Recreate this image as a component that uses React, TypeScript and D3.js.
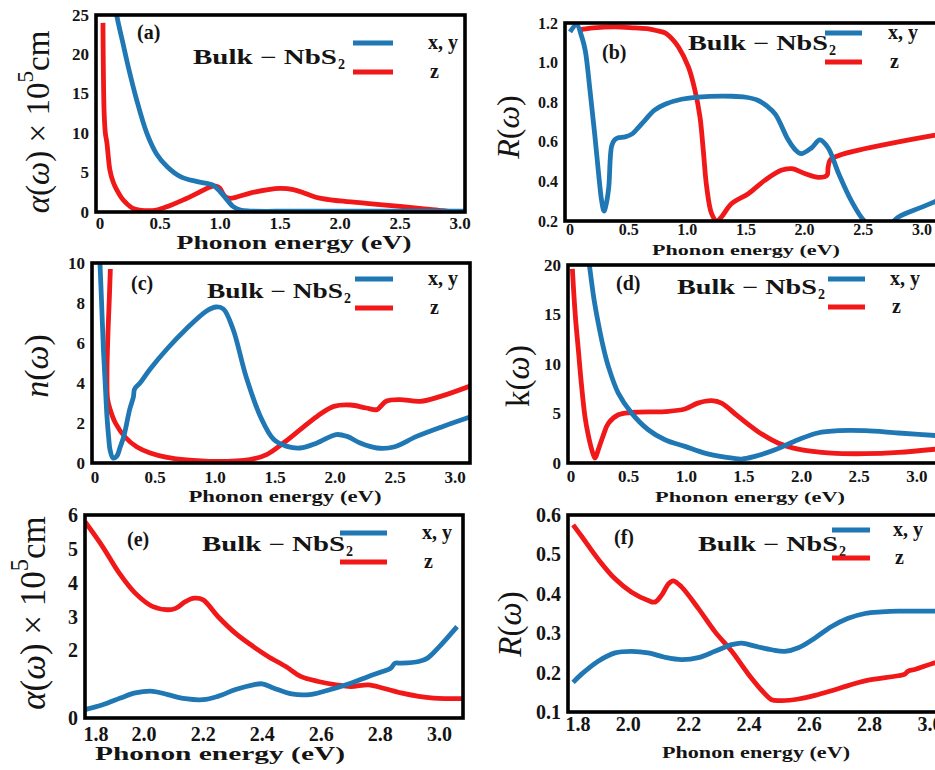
import React from "react";
import * as d3 from "d3";

// ---- data: [photon energy (eV), value] ----
const absXY = [[0.12,27],[0.139,25],[0.19,21.5],[0.236,18.4],[0.306,14.2],[0.39,10],[0.47,7.4],[0.56,5.75],[0.67,4.5],[0.81,3.85],[0.94,3.4],[1.0,2.6],[1.06,1.5],[1.11,0.68],[1.17,0.25],[1.25,0.12],[1.6,0.1],[2.5,0.1],[3.1,0.1]];
const absZ = [[0.025,24],[0.027,20],[0.03,16],[0.035,12.5],[0.045,10],[0.058,8.75],[0.083,5.3],[0.11,3.8],[0.14,2.8],[0.18,1.8],[0.22,1.1],[0.27,0.5],[0.33,0.25],[0.47,0.25],[0.58,0.8],[0.69,1.5],[0.8,2.3],[0.89,3.0],[0.94,3.3],[0.98,3.2],[1.0,3.0],[1.03,2.2],[1.06,1.8],[1.1,1.75],[1.25,2.4],[1.4,2.85],[1.5,3.0],[1.61,2.85],[1.72,2.3],[1.83,1.75],[2.0,1.4],[2.22,1.1],[2.5,0.7],[2.7,0.4],[2.86,0.17],[2.92,0.05],[3.0,0.02],[3.1,0.02]];

const refXY = [[0,1.155],[0.057,1.19],[0.1,1.13],[0.13,1.06],[0.17,0.86],[0.21,0.64],[0.25,0.4],[0.27,0.3],[0.29,0.25],[0.31,0.29],[0.33,0.37],[0.355,0.58],[0.38,0.61],[0.41,0.62],[0.47,0.625],[0.53,0.64],[0.58,0.67],[0.64,0.71],[0.72,0.76],[0.81,0.79],[0.95,0.815],[1.09,0.826],[1.38,0.83],[1.5,0.825],[1.6,0.81],[1.68,0.78],[1.75,0.74],[1.86,0.61],[1.92,0.56],[1.97,0.54],[2.06,0.57],[2.13,0.61],[2.2,0.57],[2.29,0.44],[2.4,0.3],[2.51,0.2],[2.6,0.17],[2.7,0.17],[2.8,0.22],[3.0,0.27],[3.2,0.32]];
const refZ = [[0.08,1.165],[0.2,1.175],[0.38,1.18],[0.55,1.175],[0.67,1.17],[0.75,1.16],[0.81,1.15],[0.87,1.12],[0.923,1.08],[1.009,0.978],[1.065,0.86],[1.108,0.725],[1.136,0.557],[1.165,0.372],[1.207,0.237],[1.25,0.2],[1.29,0.22],[1.378,0.288],[1.52,0.338],[1.66,0.405],[1.8,0.456],[1.89,0.464],[2.0,0.44],[2.117,0.42],[2.19,0.43],[2.2,0.47],[2.216,0.506],[2.287,0.53],[2.51,0.565],[2.8,0.6],[3.11,0.633],[3.2,0.642]];

const nXY = [[0.04,10.2],[0.055,8],[0.07,5.7],[0.085,4],[0.1,2.3],[0.115,1.2],[0.125,0.67],[0.15,0.25],[0.18,0.33],[0.21,0.8],[0.24,1.33],[0.29,2.7],[0.32,3.3],[0.33,3.7],[0.375,4.0],[0.46,4.7],[0.6,5.7],[0.76,6.7],[0.93,7.6],[1.01,7.8],[1.07,7.7],[1.15,6.7],[1.26,4.3],[1.38,2.3],[1.49,1.17],[1.6,0.83],[1.71,0.75],[1.85,1.0],[2.01,1.42],[2.1,1.33],[2.21,1.0],[2.35,0.75],[2.49,0.8],[2.68,1.33],[2.9,1.83],[3.15,2.35]];
const nZ = [[0.128,9.7],[0.118,8],[0.108,6.5],[0.1,4.5],[0.105,3.2],[0.125,2.7],[0.17,2.0],[0.25,1.3],[0.35,0.8],[0.46,0.5],[0.6,0.28],[0.74,0.17],[1.01,0.08],[1.29,0.17],[1.43,0.42],[1.57,1.0],[1.71,1.67],[1.85,2.33],[1.99,2.83],[2.13,2.9],[2.26,2.75],[2.35,2.67],[2.38,2.83],[2.43,3.1],[2.54,3.17],[2.71,3.08],[2.88,3.33],[3.15,3.9]];

const kXY = [[0.15,21],[0.165,19.5],[0.2,16.5],[0.237,14.1],[0.28,11.7],[0.324,9.75],[0.41,7.06],[0.526,5.04],[0.67,3.36],[0.815,2.35],[0.988,1.68],[1.16,1.0],[1.335,0.6],[1.48,0.4],[1.595,0.67],[1.77,1.34],[1.97,2.35],[2.14,3.03],[2.32,3.26],[2.55,3.26],[2.84,3.03],[3.25,2.7]];
const kZ = [[0.012,19.6],[0.025,17],[0.04,14.5],[0.064,11.4],[0.09,8],[0.121,4.7],[0.15,2.8],[0.18,1.35],[0.208,0.5],[0.237,1.35],[0.28,2.8],[0.324,4.0],[0.41,4.87],[0.526,5.1],[0.815,5.2],[0.988,5.45],[1.1,6.05],[1.22,6.3],[1.306,6.05],[1.45,4.7],[1.62,3.19],[1.8,2.0],[1.97,1.41],[2.26,1.0],[2.55,0.94],[2.84,1.07],[3.25,1.5]];

const absHiXY = [[1.8,0.25],[1.86,0.39],[1.92,0.59],[1.97,0.74],[2.03,0.79],[2.08,0.69],[2.14,0.57],[2.2,0.54],[2.25,0.64],[2.31,0.84],[2.37,0.98],[2.4,1.01],[2.44,0.88],[2.5,0.71],[2.56,0.69],[2.61,0.79],[2.7,1.03],[2.76,1.23],[2.81,1.38],[2.835,1.47],[2.85,1.62],[2.87,1.62],[2.93,1.67],[2.96,1.77],[3.0,2.11],[3.04,2.5],[3.06,2.7]];
const absHiZ = [[1.8,5.8],[1.86,5.06],[1.916,4.28],[1.97,3.69],[2.03,3.29],[2.08,3.2],[2.107,3.24],[2.14,3.44],[2.17,3.54],[2.2,3.49],[2.25,3.0],[2.31,2.5],[2.37,2.11],[2.42,1.82],[2.48,1.52],[2.53,1.23],[2.59,1.08],[2.65,0.98],[2.7,0.93],[2.76,0.98],[2.81,0.88],[2.87,0.74],[2.93,0.64],[2.98,0.59],[3.08,0.57]];

const refHiXY = [[1.817,0.175],[1.845,0.196],[1.9,0.229],[1.956,0.25],[2.011,0.254],[2.066,0.25],[2.121,0.239],[2.177,0.233],[2.232,0.238],[2.287,0.254],[2.343,0.271],[2.376,0.275],[2.42,0.267],[2.475,0.258],[2.519,0.254],[2.564,0.263],[2.619,0.288],[2.674,0.317],[2.729,0.338],[2.785,0.35],[2.84,0.354],[2.895,0.356],[3.017,0.356],[3.06,0.356]];
const refHiZ = [[1.817,0.575],[1.845,0.546],[1.9,0.488],[1.956,0.438],[2.011,0.404],[2.066,0.383],[2.088,0.379],[2.11,0.396],[2.133,0.425],[2.149,0.433],[2.177,0.417],[2.232,0.363],[2.287,0.304],[2.343,0.254],[2.398,0.196],[2.453,0.146],[2.475,0.131],[2.508,0.129],[2.564,0.133],[2.619,0.142],[2.674,0.154],[2.729,0.167],[2.785,0.179],[2.895,0.192],[2.917,0.196],[2.928,0.204],[2.95,0.208],[3.017,0.225],[3.06,0.232]];

const ticksFull = [0, 0.5, 1.0, 1.5, 2.0, 2.5, 3.0];
const ticksHi = [1.8, 2.0, 2.2, 2.4, 2.6, 2.8, 3.0];

const BLUE = "#1f77b4";
const RED = "#f01818";
const INK = "#141414";
const SERIF = "'Liberation Serif', 'Times New Roman', serif";

const fmtX = (v) => (v === 0 ? "0" : d3.format(".1f")(v));

// layout of each panel (pixel boxes, font sizes, annotation positions)
// firstDx nudges the first x tick label right, as in the original figure
const panels = [
  { id: "a", xy: absXY, z: absZ, box: [96, 465, 15, 212], xDom: [-0.033, 3.04], yDom: [0, 25],
    xTicks: ticksFull, yTicks: [0, 5, 10, 15, 20, 25], yFmt: d3.format("d"), tickFs: 17, xTickY: 229, firstDx: 0,
    xLab: [294, 249, 235, 18], yLab: { kind: "alpha", cx: 38, cy: 122, fs: 33 },
    tag: [137, 39], bulk: [193, 64, 144], leg: [353, 393, 43, 72, 428] },
  { id: "b", xy: refXY, z: refZ, box: [565, 945, 23, 221], xDom: [-0.043, 3.197], yDom: [0.2, 1.2],
    xTicks: ticksFull, yTicks: [0.2, 0.4, 0.6, 0.8, 1.0, 1.2], yFmt: d3.format(".1f"), tickFs: 16, xTickY: 235, firstDx: 0,
    xLab: [746, 255, 188, 15], yLab: { kind: "R", cx: 508, cy: 127, fs: 32 },
    tag: [602, 59], bulk: [688, 50, 140], leg: [825, 862, 33, 62, 888] },
  { id: "c", xy: nXY, z: nZ, box: [92, 470, 263, 463], xDom: [-0.025, 3.125], yDom: [0, 10],
    xTicks: ticksFull, yTicks: [0, 2, 4, 6, 8, 10], yFmt: d3.format("d"), tickFs: 17, xTickY: 483, firstDx: 0,
    xLab: [285, 502, 193, 16], yLab: { kind: "n", cx: 36, cy: 366, fs: 34 },
    tag: [131, 290], bulk: [207, 298, 136], leg: [355, 393, 279, 308, 428] },
  { id: "d", xy: kXY, z: kZ, box: [568, 945, 265, 463], xDom: [-0.026, 3.244], yDom: [0, 20],
    xTicks: ticksFull, yTicks: [0, 5, 10, 15, 20], yFmt: d3.format("d"), tickFs: 17, xTickY: 482, firstDx: 0,
    xLab: [750, 502, 190, 15], yLab: { kind: "k", cx: 518, cy: 376, fs: 33 },
    tag: [616, 290], bulk: [677, 294, 140], leg: [828, 865, 279, 307, 890] },
  { id: "e", xy: absHiXY, z: absHiZ, box: [85, 463, 515, 718], xDom: [1.8, 3.08], yDom: [0, 6],
    xTicks: ticksHi, yTicks: [0, 2, 3, 4, 5, 6], yFmt: d3.format("d"), tickFs: 20, xTickY: 741, firstDx: 11,
    xLab: [220, 760, 250, 19], yLab: { kind: "alpha", cx: 33, cy: 613, fs: 35 },
    tag: [127, 546], bulk: [202, 551, 143], leg: [340, 387, 533, 562, 422] },
  { id: "f", xy: refHiXY, z: refHiZ, box: [568, 945, 515, 712], xDom: [1.8, 3.05], yDom: [0.1, 0.6],
    xTicks: ticksHi, yTicks: [0.1, 0.2, 0.3, 0.4, 0.5, 0.6], yFmt: d3.format(".1f"), tickFs: 20, xTickY: 731, firstDx: 10,
    xLab: [756, 758, 188, 17], yLab: { kind: "R", cx: 510, cy: 624, fs: 33 },
    tag: [614, 544], bulk: [698, 551, 140], leg: [832, 870, 530, 558, 893] },
];

const YLabel = ({ kind, cx, cy, fs }) => {
  const common = {
    transform: `translate(${cx},${cy}) rotate(-90)`,
    textAnchor: "middle",
    dominantBaseline: "central",
    fontFamily: SERIF,
    fontSize: fs,
    fill: INK,
  };
  if (kind === "alpha") {
    return (
      <text {...common}>
        <tspan fontStyle="italic">α</tspan>
        <tspan>(</tspan>
        <tspan fontStyle="italic">ω</tspan>
        <tspan>) × 10</tspan>
        <tspan fontSize={fs * 0.7} dy={-fs * 0.4}>5</tspan>
        <tspan dy={fs * 0.4}>cm</tspan>
      </text>
    );
  }
  const head = kind === "k" ? <tspan>k</tspan> : <tspan fontStyle="italic">{kind}</tspan>;
  return (
    <text {...common}>
      {head}
      <tspan>(</tspan>
      <tspan fontStyle="italic">ω</tspan>
      <tspan>)</tspan>
    </text>
  );
};

const Panel = ({ p }) => {
  const [x0, x1, y0, y1] = p.box;
  const x = d3.scaleLinear().domain(p.xDom).range([x0, x1]);
  const y = d3.scaleLinear().domain(p.yDom).range([y1, y0]);
  const line = d3
    .line()
    .x((d) => x(d[0]))
    .y((d) => y(d[1]))
    .curve(d3.curveCatmullRom.alpha(0.5));
  const clipId = `clip-${p.id}`;
  const [lx1, lx2, ly1, ly2, ltx] = p.leg;

  return (
    <g>
      <defs>
        <clipPath id={clipId}>
          <rect x={x0} y={y0} width={x1 - x0} height={y1 - y0} />
        </clipPath>
      </defs>

      <g clipPath={`url(#${clipId})`} fill="none" strokeWidth={4.8} strokeLinejoin="round">
        <path d={line(p.z)} stroke={RED} />
        <path d={line(p.xy)} stroke={BLUE} />
      </g>

      <rect x={x0} y={y0} width={x1 - x0} height={y1 - y0} fill="none" stroke="#000" strokeWidth={3.6} />

      {/* tick labels */}
      <g fontFamily={SERIF} fontWeight="bold" fontSize={p.tickFs} fill={INK}>
        {p.xTicks.map((t, i) => (
          <text key={`x${t}`} x={x(t) + (i === 0 ? p.firstDx : 0)} y={p.xTickY} textAnchor="middle">
            {fmtX(t)}
          </text>
        ))}
        {p.yTicks.map((t) => (
          <text key={`y${t}`} x={x0 - 7} y={y(t)} textAnchor="end" dominantBaseline="central">
            {p.yFmt(t)}
          </text>
        ))}
      </g>

      <text
        x={p.xLab[0]}
        y={p.xLab[1]}
        textAnchor="middle"
        fontFamily={SERIF}
        fontWeight="bold"
        fontSize={p.xLab[3]}
        textLength={p.xLab[2]}
        lengthAdjust="spacingAndGlyphs"
        fill={INK}
      >
        Phonon energy (eV)
      </text>

      <YLabel {...p.yLab} />

      {/* panel tag and material label */}
      <text x={p.tag[0]} y={p.tag[1]} fontFamily={SERIF} fontWeight="bold" fontSize={20} fill={INK}>
        ({p.id})
      </text>
      <text
        x={p.bulk[0]}
        y={p.bulk[1]}
        fontFamily={SERIF}
        fontWeight="bold"
        fontSize={20}
        textLength={p.bulk[2]}
        lengthAdjust="spacingAndGlyphs"
        fill={INK}
      >
        Bulk − NbS
      </text>
      <text x={p.bulk[0] + p.bulk[2] + 1} y={p.bulk[1] + 5} fontFamily={SERIF} fontWeight="bold" fontSize={14} fill={INK}>
        2
      </text>

      {/* legend */}
      <line x1={lx1} x2={lx2} y1={ly1} y2={ly1} stroke={BLUE} strokeWidth={5} />
      <line x1={lx1} x2={lx2} y1={ly2} y2={ly2} stroke={RED} strokeWidth={5} />
      <g fontFamily={SERIF} fontWeight="bold" fontSize={20} fill={INK}>
        <text x={ltx} y={ly1 + 6}>x, y</text>
        <text x={ltx + 2} y={ly2 + 6}>z</text>
      </g>
    </g>
  );
};

export default function App() {
  return (
    <svg
      width={935}
      height={770}
      style={{ position: "absolute", left: 0, top: 0, background: "#fff" }}
    >
      {panels.map((p) => (
        <Panel key={p.id} p={p} />
      ))}
    </svg>
  );
}
